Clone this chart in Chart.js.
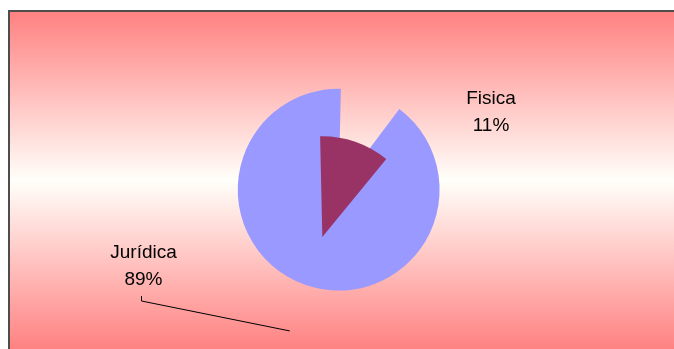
<!DOCTYPE html>
<html>
<head>
<meta charset="utf-8">
<script src="https://cdn.jsdelivr.net/npm/chart.js@4/dist/chart.umd.min.js"></script>
<style>
  html, body { margin: 0; padding: 0; background: #fff; overflow: hidden; }
  canvas { display: block; }
</style>
</head>
<body>
<canvas id="chart" width="674" height="349"></canvas>
<script>
// Share of clients by legal type
const categories = ['Jurídica', 'Fisica'];
const shares = [89.4, 10.6];
const sliceColors = ['#9999FF', '#993366'];

const total = shares.reduce((a, b) => a + b, 0);
const percentText = i => Math.round(shares[i] / total * 100) + '%';

// Plot backdrop: vertical red-white-red gradient with a dark frame on top/left
const plotBackground = {
  id: 'plotBackground',
  beforeDraw(chart) {
    const ctx = chart.ctx;
    const w = chart.width, h = chart.height;
    ctx.save();
    ctx.fillStyle = '#ffffff';
    ctx.fillRect(0, 0, w, h);
    const top = 10, bottom = 351;
    const g = ctx.createLinearGradient(0, top, 0, bottom);
    g.addColorStop(0, '#FF8080');
    g.addColorStop(0.5, '#FFFFFA');
    g.addColorStop(1, '#FF8080');
    ctx.fillStyle = g;
    ctx.fillRect(9, top, w - 9, bottom - top);
    ctx.strokeStyle = '#4d4d4d';
    ctx.lineWidth = 2;
    ctx.beginPath();
    ctx.moveTo(9, h + 5);
    ctx.lineTo(9, 11);
    ctx.lineTo(w + 5, 11);
    ctx.stroke();
    ctx.restore();
  }
};

// Category name + percentage next to each slice, with an optional leader line
const sliceLabels = {
  id: 'sliceLabels',
  afterDatasetsDraw(chart, args, opts) {
    const meta = chart.getDatasetMeta(0);
    const ctx = chart.ctx;
    ctx.save();
    ctx.font = opts.font;
    ctx.fillStyle = '#000';
    ctx.textAlign = 'center';
    ctx.textBaseline = 'alphabetic';
    meta.data.forEach((arc, i) => {
      const a = opts.anchors[i];
      const cx = arc.x + a.dx, cy = arc.y + a.dy;
      ctx.fillText(categories[i], cx, cy);
      ctx.fillText(percentText(i), cx, cy + opts.lineGap);
      if (a.leader) {
        const mid = (arc.startAngle + arc.endAngle) / 2;
        const reach = arc.outerRadius * a.leader.reach;
        const sx = Math.round(cx + a.leader.dx) + 0.5;
        ctx.strokeStyle = '#000';
        ctx.lineWidth = 1;
        ctx.beginPath();
        ctx.moveTo(sx, cy + a.leader.dy1);
        ctx.lineTo(sx, cy + a.leader.dy2);
        ctx.lineTo(arc.x + Math.cos(mid) * reach, arc.y + Math.sin(mid) * reach);
        ctx.stroke();
      }
    });
    ctx.restore();
  }
};

new Chart(document.getElementById('chart'), {
  type: 'pie',
  data: {
    labels: categories,
    datasets: [{
      data: shares,
      backgroundColor: sliceColors,
      borderWidth: 0,
      offset: [-54.7, -145.3],
      hoverOffset: 0,
      radius: 114.6
    }]
  },
  options: {
    responsive: false,
    devicePixelRatio: 1,
    animation: false,
    events: [],
    radius: 114.6,
    rotation: shares[1] / total * 360,
    layout: { padding: { top: 56.2, bottom: 0, left: 0, right: 5.6 } },
    plugins: {
      legend: { display: false },
      tooltip: { enabled: false },
      title: { display: false },
      sliceLabels: {
        font: '19px "Liberation Sans", Arial, sans-serif',
        lineGap: 27,
        anchors: [
          { dx: -190.7, dy: 55.4, leader: { dx: -2.5, dy1: 38, dy2: 43, reach: 1.185 } },
          { dx: 156.8, dy: -98.6 }
        ]
      }
    }
  },
  plugins: [plotBackground, sliceLabels]
});
</script>
</body>
</html>
